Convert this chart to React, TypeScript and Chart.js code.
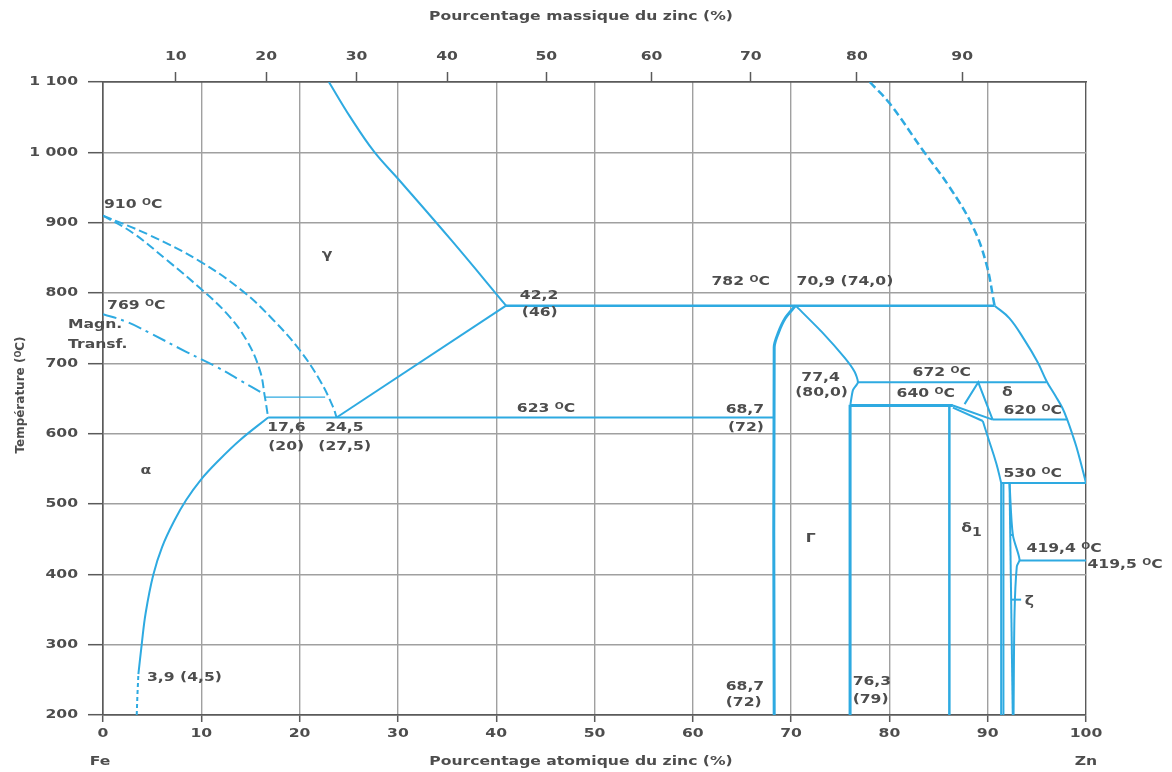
import React, { useEffect, useRef } from 'react';
import { Chart, registerables } from 'chart.js';

Chart.register(...registerables);

// ---------------- data (atomic % Zn, °C) ----------------
const atomicTicks = [0, 10, 20, 30, 40, 50, 60, 70, 80, 90, 100];
const massTickLabels = [10, 20, 30, 40, 50, 60, 70, 80, 90];
const massTickAtomicPos = [7.4, 16.6, 25.8, 35.0, 45.1, 55.8, 65.9, 76.7, 87.4];
const tempTicks = [200, 300, 400, 500, 600, 700, 800, 900, 1000, 1100];

const alphaSolvusLow = [[3.43, 200], [3.5, 228], [3.6, 258]];
const alphaSolvus = [[3.6, 258], [3.93, 299.5], [4.34, 345], [5.11, 399], [6.01, 438.8], [7.29, 477.2], [8.46, 505.7], [9.93, 534.1], [11.81, 562.5], [13.95, 591], [16.8, 623]];
const gammaLoopOuter = [[0, 910], [4.78, 882], [9.86, 845], [14.27, 802], [17.3, 762], [20.0, 719], [22.06, 676], [23.4, 638], [23.76, 623]];
const gammaLoopInner = [[0, 910], [3.08, 885], [6.48, 847], [9.86, 807], [12.58, 771], [14.6, 733], [15.96, 690], [16.47, 652], [16.8, 623]];
const magneticLine = [[0, 770], [2.41, 759], [4.78, 743], [8.51, 716], [11.56, 695], [13.93, 676], [16.3, 657]];
const tie652 = [[16.5, 652], [22.6, 652]];
const eutectoid623 = [[16.8, 623], [68.28, 623]];
const gammaUpper = [[22.98, 1100], [25.16, 1050], [27.6, 1000.5], [30.1, 961], [35.5, 874], [41.0, 782]];
const gammaLower = [[23.76, 623], [41.0, 782]];
const peritectic782 = [[41.0, 782], [90.7, 782]];
const zincLiquidusDashed = [[78.0, 1100], [80.0, 1070], [83.4, 1003], [86.1, 951], [88.5, 894], [89.85, 842], [90.7, 782]];
const zincLiquidus = [[90.7, 782], [92.22, 764], [93.75, 733], [95.07, 702], [95.98, 675], [96.9, 653.5], [97.6, 636.5], [98.1, 619.5], [98.6, 599.5], [99.03, 581], [99.53, 555.4], [100, 530]];
const gammaPhaseLeft = [[68.28, 200], [68.28, 723], [68.69, 743], [69.4, 764], [70.46, 782]];
const gammaPhaseRightTop = [[70.46, 782], [73.24, 743], [75.44, 708], [76.46, 688], [76.8, 673], [76.29, 662], [76.03, 641]];
const gammaPhaseRightLow = [[76.0, 641], [76.0, 200]];
const iso672 = [[76.8, 673], [95.98, 673]];
const iso640 = [[76.0, 640], [86.46, 640]];
const diagUpper = [[86.46, 640], [90.5, 620]];
const diagLower = [[86.46, 637], [89.5, 618]];
const deltaPeak = [[87.65, 642], [89.04, 673], [90.5, 620]];
const iso620 = [[90.5, 620], [98.1, 620]];
const delta1Right = [[89.5, 618], [90.0, 596], [90.87, 558], [91.37, 530]];
const iso530 = [[91.37, 530], [100, 530]];
const delta1Left = [[86.1, 640], [86.1, 200]];
const zetaEdgeA = [[91.37, 530], [91.37, 200]];
const zetaEdgeB = [[91.6, 530], [91.6, 200]];
const zetaLeft = [[92.22, 530], [92.55, 200]];
const zetaRight = [[92.22, 530], [92.56, 456], [93.24, 421], [92.96, 411], [92.73, 345], [92.63, 200]];
const iso419 = [[93.24, 419.5], [100, 419.5]];
const zetaTickHigh = [[92.28, 456], [92.6, 456]];
const zetaTickLow = [[92.4, 364], [93.4, 364]];

// text labels placed in data coordinates
const labelTexts = ['910 °C', '769 °C', 'Magn.', 'Transf.', 'γ', 'α', '17,6', '(20)', '24,5', '(27,5)', '42,2', '(46)', '782 °C', '70,9 (74,0)', '623 °C', '68,7', '(72)', '77,4', '(80,0)', '672 °C', '640 °C', 'δ', '620 °C', '530 °C', 'δ₁', 'Γ', '419,4 °C', '419,5 °C', 'ζ', '76,3', '(79)', '68,7', '(72)', '3,9 (4,5)'];
const labelX = [0.1, 0.41, -3.56, -3.56, 22.8, 4.37, 16.7, 16.8, 22.6, 21.9, 42.4, 42.6, 61.9, 70.56, 42.1, 65.3, 65.4, 73.0, 73.1, 82.36, 80.73, 92.0, 91.6, 91.6, 87.3, 72.0, 93.95, 100.15, 94.25, 76.26, 76.26, 63.35, 63.35, 4.47];
const labelT = [925, 781.5, 754.5, 726, 854, 548, 608, 581, 608, 581, 795.7, 771.5, 815.6, 815.6, 635, 633.6, 608, 679, 657.8, 686.2, 656.4, 657.8, 632.2, 542.6, 464.4, 450.2, 436, 413.2, 360.6, 246.9, 221.3, 239.8, 217, 252.6];
const labelAlign = ['left', 'left', 'left', 'left', 'center', 'center', 'left', 'left', 'left', 'left', 'left', 'left', 'left', 'left', 'left', 'center', 'center', 'center', 'center', 'left', 'left', 'center', 'left', 'left', 'left', 'center', 'left', 'left', 'center', 'left', 'left', 'left', 'left', 'left'];

// ---------------- styles ----------------
const BLUE = '#2eaae1';
const TEXT = '#4d4d4d';
const GRID = '#a0a0a0';
const AXIS = '#5a5a5a';
const FONT = '"DejaVu Sans", sans-serif';
const WEIGHT = 'bold';
const SX = 1.2;

type Curve = { d: number[][]; w: number; dash?: number[]; t: number };
const curves: Curve[] = [
  { d: alphaSolvusLow, w: 2, dash: [4, 3], t: 0 },
  { d: alphaSolvus, w: 2, t: 0.4 },
  { d: gammaLoopOuter, w: 2, dash: [9, 4], t: 0.4 },
  { d: gammaLoopInner, w: 2, dash: [9, 4], t: 0.4 },
  { d: magneticLine, w: 2, dash: [14, 5, 3, 5], t: 0.4 },
  { d: tie652, w: 1.2, t: 0 },
  { d: eutectoid623, w: 2, t: 0 },
  { d: gammaUpper, w: 2, t: 0.4 },
  { d: gammaLower, w: 2, t: 0 },
  { d: peritectic782, w: 2.5, t: 0 },
  { d: zincLiquidusDashed, w: 2.5, dash: [8, 4], t: 0.4 },
  { d: zincLiquidus, w: 2, t: 0.4 },
  { d: gammaPhaseLeft, w: 3, t: 0.3 },
  { d: gammaPhaseRightTop, w: 2, t: 0.2 },
  { d: gammaPhaseRightLow, w: 3, t: 0 },
  { d: iso672, w: 2, t: 0 },
  { d: iso640, w: 3, t: 0 },
  { d: diagUpper, w: 2, t: 0 },
  { d: diagLower, w: 2, t: 0 },
  { d: deltaPeak, w: 2, t: 0 },
  { d: iso620, w: 2, t: 0 },
  { d: delta1Right, w: 2, t: 0.4 },
  { d: iso530, w: 2, t: 0 },
  { d: delta1Left, w: 2.5, t: 0 },
  { d: zetaEdgeA, w: 2, t: 0 },
  { d: zetaEdgeB, w: 2, t: 0 },
  { d: zetaLeft, w: 2, t: 0 },
  { d: zetaRight, w: 2, t: 0.3 },
  { d: iso419, w: 2, t: 0 },
  { d: zetaTickHigh, w: 2, t: 0 },
  { d: zetaTickLow, w: 2, t: 0 },
];

type Seg = { s: string; k: 'n' | 'sup' | 'sub' };
function segs(text: string): Seg[] {
  const out: Seg[] = [];
  for (const ch of Array.from(text)) {
    if (ch === '°') out.push({ s: 'O', k: 'sup' });
    else if (ch === '₁') out.push({ s: '1', k: 'sub' });
    else if (out.length && out[out.length - 1].k === 'n') out[out.length - 1].s += ch;
    else out.push({ s: ch, k: 'n' });
  }
  return out;
}

function drawText(ctx: CanvasRenderingContext2D, text: string, x: number, y: number, align: string, size = 13, sx = SX) {
  const parts = segs(text);
  const fontFor = (k: string) => `${WEIGHT} ${k === 'sup' ? size * 0.68 : k === 'sub' ? size * 0.9 : size}px ${FONT}`;
  let total = 0;
  const widths = parts.map((p) => {
    ctx.font = fontFor(p.k);
    const w = ctx.measureText(p.s).width * sx;
    total += w;
    return w;
  });
  let cx = align === 'left' ? x : align === 'right' ? x - total : x - total / 2;
  parts.forEach((p, i) => {
    ctx.font = fontFor(p.k);
    const dy = p.k === 'sup' ? -size * 0.2 : p.k === 'sub' ? size * 0.3 : 0;
    ctx.save();
    ctx.translate(cx, y + dy);
    ctx.scale(sx, 1);
    ctx.textAlign = 'left';
    ctx.textBaseline = 'middle';
    ctx.fillText(p.s, 0, 0);
    ctx.restore();
    cx += widths[i];
  });
}

function tempLabel(v: number) {
  return v >= 1000 ? `${Math.floor(v / 1000)} ${String(v % 1000).padStart(3, '0')}` : String(v);
}

const textPlugin = {
  id: 'diagramTexts',
  afterDraw(chart: any) {
    const ctx: CanvasRenderingContext2D = chart.ctx;
    const xs = chart.scales.x;
    const ys = chart.scales.y;
    const ca = chart.chartArea;
    ctx.save();
    ctx.fillStyle = TEXT;
    atomicTicks.forEach((v) => drawText(ctx, String(v), xs.getPixelForValue(v), ca.bottom + 19, 'center'));
    massTickLabels.forEach((v, i) => drawText(ctx, String(v), xs.getPixelForValue(massTickAtomicPos[i]), ca.top - 25, 'center'));
    tempTicks.forEach((v) => drawText(ctx, tempLabel(v), ca.left - 25, ys.getPixelForValue(v), 'right'));
    drawText(ctx, 'Pourcentage massique du zinc (%)', 581, 17, 'center');
    drawText(ctx, 'Pourcentage atomique du zinc (%)', 581, 762, 'center');
    drawText(ctx, 'Fe', xs.getPixelForValue(0) - 3, 762, 'center');
    drawText(ctx, 'Zn', xs.getPixelForValue(100), 762, 'center');
    ctx.save();
    ctx.translate(21, 395);
    ctx.rotate(-Math.PI / 2);
    drawText(ctx, 'Température (°C)', 0, 0, 'center', 12, 1.0);
    ctx.restore();
    labelTexts.forEach((t, i) => {
      drawText(ctx, t, xs.getPixelForValue(labelX[i]), ys.getPixelForValue(labelT[i]), labelAlign[i]);
    });
    ctx.restore();
  },
};

const edgeColor = (lo: number, hi: number) => (c: any) =>
  c.tick && (c.tick.value === lo || c.tick.value === hi) ? AXIS : GRID;

export default function App() {
  const ref = useRef<HTMLCanvasElement>(null);
  useEffect(() => {
    if (!ref.current) return;
    const chart = new Chart(ref.current, {
      type: 'scatter',
      data: {
        datasets: curves.map((c) => ({
          data: c.d.map(([x, y]) => ({ x, y })),
          showLine: true,
          borderColor: BLUE,
          backgroundColor: BLUE,
          borderWidth: c.w,
          borderDash: c.dash || [],
          tension: c.t,
          pointRadius: 0,
          pointHoverRadius: 0,
          fill: false,
        })),
      },
      options: {
        responsive: false,
        animation: false,
        devicePixelRatio: 1,
        events: [],
        layout: { padding: { left: 0, right: 86, top: 0, bottom: 0 }, autoPadding: false },
        plugins: { legend: { display: false }, tooltip: { enabled: false } },
        scales: {
          x: {
            type: 'linear',
            position: 'bottom',
            min: 0,
            max: 100,
            ticks: { display: false, stepSize: 10 },
            grid: { color: edgeColor(0, 100), lineWidth: 1.4, tickLength: 7, tickColor: AXIS, tickWidth: 1.5 },
            border: { display: true, color: AXIS, width: 1.5 },
            afterFit: (s: any) => { s.height = 57; },
          },
          x2: {
            type: 'linear',
            position: 'top',
            min: 0,
            max: 100,
            afterBuildTicks: (s: any) => { s.ticks = massTickAtomicPos.map((v) => ({ value: v })); },
            ticks: { display: false },
            grid: { drawOnChartArea: false, tickLength: 10, color: AXIS, tickColor: AXIS, tickWidth: 1.5 },
            border: { display: true, color: AXIS, width: 1.5 },
            afterFit: (s: any) => { s.height = 82; },
          },
          y: {
            type: 'linear',
            min: 200,
            max: 1100,
            ticks: { display: false, stepSize: 100 },
            grid: { color: edgeColor(200, 1100), lineWidth: 1.4, tickLength: 15, tickColor: AXIS, tickWidth: 1.5 },
            border: { display: true, color: AXIS, width: 1.5 },
            afterFit: (s: any) => { s.width = 103; },
          },
        },
      } as any,
      plugins: [textPlugin],
    });
    return () => chart.destroy();
  }, []);
  return (
    <div style={{ position: 'absolute', left: 0, top: 0, width: 1172, height: 772, background: '#fff' }}>
      <canvas ref={ref} width={1172} height={772} style={{ display: 'block', width: 1172, height: 772 }} />
    </div>
  );
}
